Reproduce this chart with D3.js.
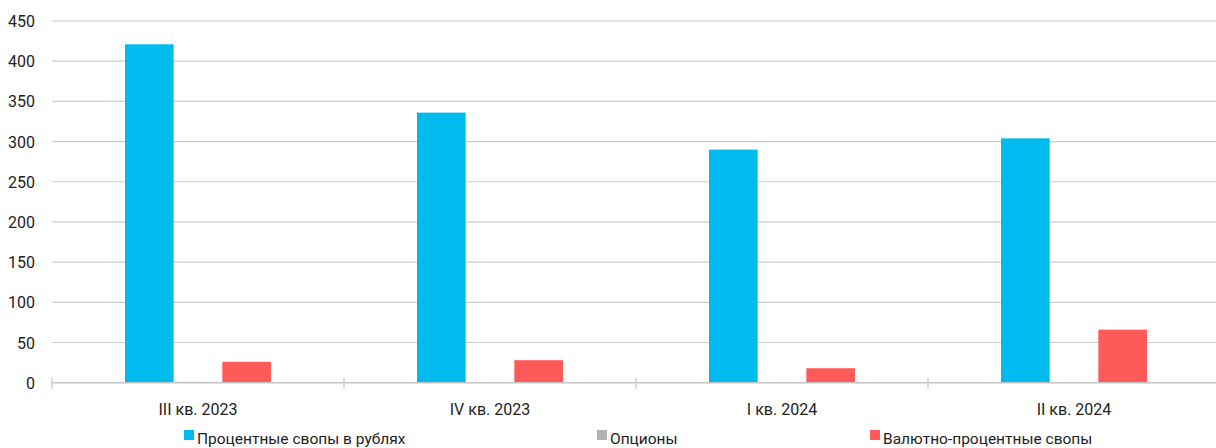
<!DOCTYPE html>
<html>
<head>
<meta charset="utf-8">
<script src="https://cdn.jsdelivr.net/npm/d3@7"></script>
<style>
  html, body { margin: 0; padding: 0; background: #fff; }
  svg { display: block; font-family: Roboto, "Noto Sans", sans-serif; }
</style>
</head>
<body>
<svg id="chart" width="1216" height="448"></svg>
<script>
// Quarters on the x axis
const categories = ["III кв. 2023", "IV кв. 2023", "I кв. 2024", "II кв. 2024"];
// Series values
const seriesNames = ["Процентные свопы в рублях", "Опционы", "Валютно-процентные свопы"];
const rubSwaps = [421, 336, 290, 304];
const options = [1, 0, 0, 0];
const crossCurrencySwaps = [26, 28, 18, 66];
const yTicks = [0, 50, 100, 150, 200, 250, 300, 350, 400, 450];
const colors = ["#00BCEE", "#B2B2B2", "#FF5A5A"];

const series = [rubSwaps, options, crossCurrencySwaps];

const svg = d3.select("#chart");
const plotLeft = 52, plotRight = 1220, plotTop = 21, plotBottom = 382.7;

const x = d3.scaleBand().domain(categories).range([plotLeft, plotRight]).paddingInner(0).paddingOuter(0);
const y = d3.scaleLinear().domain([0, 450]).range([plotBottom, plotTop]);

// Inner band for the three bars of each quarter
const xs = d3.scaleBand().domain(d3.range(series.length)).range([0, x.bandwidth()]).paddingInner(0).paddingOuter(1.5);

// Horizontal gridlines
svg.append("g")
  .selectAll("line")
  .data(yTicks.filter(d => d > 0))
  .join("line")
  .attr("x1", plotLeft).attr("x2", 1216)
  .attr("y1", d => y(d)).attr("y2", d => y(d))
  .attr("stroke", "#cccccc").attr("stroke-width", 1.2);

// Y axis labels
svg.append("g")
  .selectAll("text")
  .data(yTicks)
  .join("text")
  .attr("x", 35).attr("y", d => y(d) + 6)
  .attr("text-anchor", "end")
  .attr("font-size", 16)
  .attr("fill", "#222")
  .text(d => d);

// Bars
const groups = svg.append("g")
  .selectAll("g")
  .data(categories)
  .join("g")
  .attr("transform", d => `translate(${x(d)},0)`);

groups.selectAll("rect")
  .data((c, i) => series.map((s, k) => ({ k, v: s[i] })))
  .join("rect")
  .attr("x", d => xs(d.k))
  .attr("width", xs.bandwidth())
  .attr("y", d => y(d.v))
  .attr("height", d => plotBottom - y(d.v))
  .attr("fill", d => colors[d.k]);

// X axis line and tick marks
svg.append("line")
  .attr("x1", plotLeft).attr("x2", 1216)
  .attr("y1", plotBottom).attr("y2", plotBottom)
  .attr("stroke", "#c4c4c4").attr("stroke-width", 1.5);

svg.append("g")
  .selectAll("line")
  .data(categories)
  .join("line")
  .attr("x1", d => x(d)).attr("x2", d => x(d))
  .attr("y1", plotBottom - 5).attr("y2", plotBottom + 6)
  .attr("stroke", "#c4c4c4").attr("stroke-width", 1.2);

// Category labels
svg.append("g")
  .selectAll("text")
  .data(categories)
  .join("text")
  .attr("x", d => x(d) + x.bandwidth() / 2)
  .attr("y", 415)
  .attr("text-anchor", "middle")
  .attr("font-size", 16)
  .attr("fill", "#222")
  .text(d => d);

// Legend
const legendX = [184, 597, 870];
const legend = svg.append("g")
  .selectAll("g")
  .data(seriesNames)
  .join("g")
  .attr("transform", (d, i) => `translate(${legendX[i]},0)`);

legend.append("rect")
  .attr("x", 0).attr("y", 430)
  .attr("width", 10).attr("height", 10)
  .attr("fill", (d, i) => colors[i]);

legend.append("text")
  .attr("x", 13).attr("y", 444)
  .attr("font-size", 15.5)
  .attr("fill", "#222")
  .text(d => d);
</script>
</body>
</html>
